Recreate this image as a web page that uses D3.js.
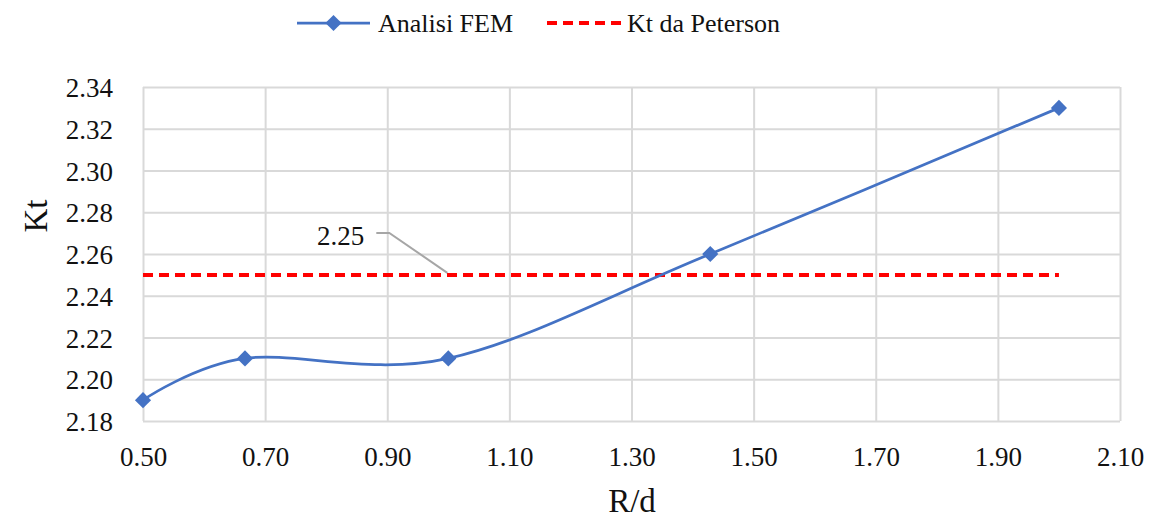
<!DOCTYPE html>
<html>
<head>
<meta charset="utf-8">
<script src="https://cdn.jsdelivr.net/npm/d3@7"></script>
<style>
  html, body { margin: 0; padding: 0; background: #fff; }
  svg { display: block; }
  text { font-family: "Liberation Serif", "Times New Roman", serif; fill: #111; }
</style>
</head>
<body>
<svg id="chart" width="1166" height="518"></svg>
<script>
// R/d ratios and stress concentration factors
const rdValues = [0.5, 0.667, 1.0, 1.429, 2.0];
const ktFem = [2.19, 2.21, 2.21, 2.26, 2.33];
const ktPeterson = [2.25, 2.25, 2.25, 2.25, 2.25];

const xTicks = [0.5, 0.7, 0.9, 1.1, 1.3, 1.5, 1.7, 1.9, 2.1];
const yTicks = [2.18, 2.20, 2.22, 2.24, 2.26, 2.28, 2.30, 2.32, 2.34];

const seriesNames = ["Analisi FEM", "Kt da Peterson"];
const labelIndex = 2; // Peterson point that carries the value label

const svg = d3.select("#chart");
const plot = { left: 143, right: 1120, top: 87, bottom: 421 };

const x = d3.scaleLinear().domain([0.5, 2.1]).range([plot.left, plot.right]);
const y = d3.scaleLinear().domain([2.18, 2.34]).range([plot.bottom, plot.top]);

const blue = "#4472C4";
const red = "#FF0000";
const gridColor = "#d9d9d9";
const serif = '"Liberation Serif", "Times New Roman", serif';

// Gridlines (horizontal) with y tick labels
const yAxis = svg.append("g")
  .attr("transform", `translate(${plot.left},0)`)
  .call(d3.axisLeft(y).tickValues(yTicks).tickFormat(d3.format(".2f"))
    .tickSize(-(plot.right - plot.left)).tickPadding(30));
yAxis.attr("font-family", null);
yAxis.select(".domain").remove();
yAxis.selectAll(".tick line").attr("stroke", gridColor).attr("stroke-width", 2);
yAxis.selectAll(".tick text")
  .attr("font-size", 27).attr("dy", "0.36em")
  .style("font-family", serif).attr("fill", "#111");

// Gridlines (vertical) with x tick labels
const xAxis = svg.append("g")
  .attr("transform", `translate(0,${plot.bottom})`)
  .call(d3.axisBottom(x).tickValues(xTicks).tickFormat(d3.format(".2f"))
    .tickSize(-(plot.bottom - plot.top)).tickPadding(26));
xAxis.attr("font-family", null);
xAxis.select(".domain").remove();
xAxis.selectAll(".tick line").attr("stroke", gridColor).attr("stroke-width", 2);
xAxis.selectAll(".tick text")
  .attr("font-size", 27).attr("dy", "0.71em")
  .style("font-family", serif).attr("fill", "#111");

// Axis titles
svg.append("text")
  .attr("x", 632).attr("y", 512)
  .attr("text-anchor", "middle").attr("font-size", 33)
  .text("R/d");
svg.append("text")
  .attr("transform", "translate(47,216) rotate(-90)")
  .attr("text-anchor", "middle").attr("font-size", 33)
  .text("Kt");

// Peterson reference line
const petersonData = rdValues.map((r, i) => [r, ktPeterson[i]]);
svg.append("path")
  .datum(petersonData)
  .attr("fill", "none").attr("stroke", red).attr("stroke-width", 4)
  .attr("stroke-dasharray", "10,6")
  .attr("d", d3.line().x(d => x(d[0])).y(d => y(d[1])));

// Value label with leader line
const lp = petersonData[labelIndex];
const lx = x(lp[0]), ly = y(lp[1]);
svg.append("path")
  .attr("fill", "none").attr("stroke", "#a6a6a6").attr("stroke-width", 2)
  .attr("d", `M${lx - 72},${ly - 42} H${lx - 59} L${lx - 1},${ly - 2}`);
svg.append("text")
  .attr("x", lx - 84).attr("y", ly - 30)
  .attr("text-anchor", "end").attr("font-size", 27)
  .text(d3.format(".2f")(lp[1]));

// FEM results, smoothed line
const femData = rdValues.map((r, i) => [r, ktFem[i]]);
svg.append("path")
  .datum(femData)
  .attr("fill", "none").attr("stroke", blue).attr("stroke-width", 2.75)
  .attr("d", d3.line().x(d => x(d[0])).y(d => y(d[1])).curve(d3.curveCardinal.tension(0)));

const diamond = d3.symbol().type(d3.symbolSquare).size(130);
svg.append("g").selectAll("path")
  .data(femData)
  .join("path")
  .attr("d", diamond)
  .attr("fill", blue)
  .attr("transform", d => `translate(${x(d[0])},${y(d[1])}) rotate(45)`);

// Legend
const legend = svg.append("g");
legend.append("line")
  .attr("x1", 297).attr("x2", 370).attr("y1", 23).attr("y2", 23)
  .attr("stroke", blue).attr("stroke-width", 2.75);
legend.append("path")
  .attr("d", diamond).attr("fill", blue)
  .attr("transform", "translate(333.5,23) rotate(45)");
legend.append("text")
  .attr("x", 378).attr("y", 32).attr("font-size", 26)
  .text(seriesNames[0]);
legend.append("line")
  .attr("x1", 547).attr("x2", 621).attr("y1", 23).attr("y2", 23)
  .attr("stroke", red).attr("stroke-width", 4).attr("stroke-dasharray", "10,6");
legend.append("text")
  .attr("x", 627).attr("y", 32).attr("font-size", 26)
  .text(seriesNames[1]);
</script>
</body>
</html>
